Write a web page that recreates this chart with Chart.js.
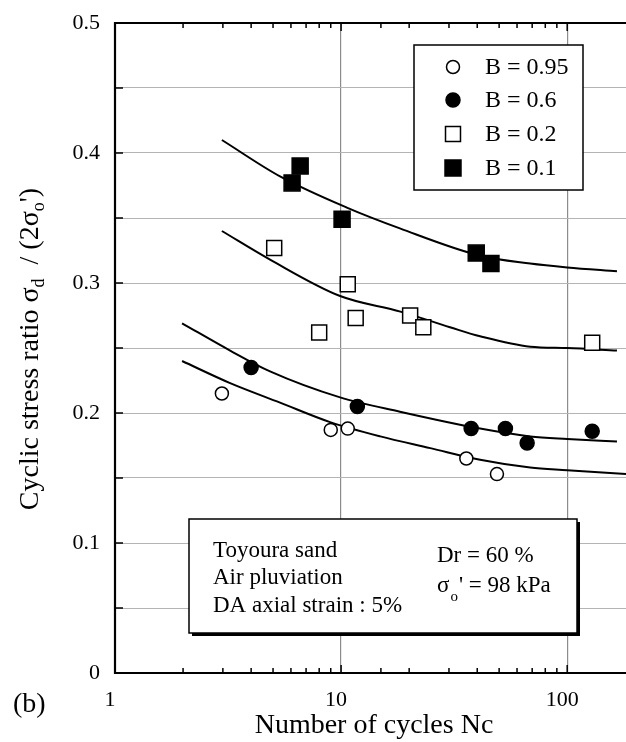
<!DOCTYPE html>
<html>
<head>
<meta charset="utf-8">
<script src="https://cdn.jsdelivr.net/npm/chart.js@4.4.0/dist/chart.umd.min.js"></script>
<style>
  html, body { margin: 0; padding: 0; background: #fff; }
</style>
</head>
<body>
<canvas id="myChart" width="626" height="742"></canvas>
<script>
// test results: number of cycles Nc and cyclic stress ratio, per B value
const ncB095 = [2.97, 9.0, 10.7, 35.8, 48.9];
const csrB095 = [0.215, 0.187, 0.188, 0.165, 0.153];
const ncB06 = [4.0, 11.8, 37.6, 53.3, 66.5, 129];
const csrB06 = [0.235, 0.205, 0.188, 0.188, 0.177, 0.186];
const ncB02 = [5.06, 8.0, 10.7, 11.6, 20.2, 23.1, 129];
const csrB02 = [0.327, 0.262, 0.299, 0.273, 0.275, 0.266, 0.254];
const ncB01 = [6.07, 6.59, 10.1, 39.6, 46.0];
const csrB01 = [0.377, 0.390, 0.349, 0.323, 0.315];

// hand-drawn trend curves through each group
const fitNc095 = [1.98, 3.23, 5.37, 8.94, 14.9, 24.8, 41.2, 68.6, 100, 182];
const fitCsr095 = [0.240, 0.223, 0.208, 0.193, 0.182, 0.173, 0.164, 0.158, 0.156, 0.153];
const fitNc06 = [1.98, 3.23, 4.85, 9.9, 18.2, 41.2, 68.6, 100, 166];
const fitCsr06 = [0.269, 0.248, 0.232, 0.212, 0.201, 0.188, 0.182, 0.180, 0.178];
const fitNc02 = [2.97, 4.85, 9.9, 18.3, 30.3, 41.2, 68.6, 100, 166];
const fitCsr02 = [0.340, 0.318, 0.290, 0.278, 0.266, 0.259, 0.251, 0.250, 0.248];
const fitNc01 = [2.97, 5.37, 10.6, 18.2, 41.2, 68.6, 100, 166];
const fitCsr01 = [0.410, 0.382, 0.358, 0.342, 0.321, 0.315, 0.312, 0.309];

const xTickLabels = [1, 10, 100];
const legendLabels = ['B = 0.95', 'B = 0.6', 'B = 0.2', 'B = 0.1'];

const SERIF = '"Liberation Serif", "Times New Roman", serif';

function toXY(xs, ys) {
    return xs.map((x, i) => ({ x: x, y: ys[i] }));
}

function curve(xs, ys) {
    return {
        type: 'line',
        data: toXY(xs, ys),
        borderColor: '#000',
        borderWidth: 2,
        pointRadius: 0,
        fill: false,
        cubicInterpolationMode: 'monotone',
        order: 2
    };
}

function marks(label, xs, ys, style, filled, r) {
    return {
        type: 'scatter',
        label: label,
        data: toXY(xs, ys),
        pointStyle: style,
        pointRadius: r,
        pointHoverRadius: r,
        pointBackgroundColor: filled ? '#000' : '#fff',
        pointBorderColor: '#000',
        pointBorderWidth: 1.5,
        showLine: false,
        order: 1
    };
}

const markSets = [
    marks(legendLabels[0], ncB095, csrB095, 'circle', false, 6.5),
    marks(legendLabels[1], ncB06, csrB06, 'circle', true, 7),
    marks(legendLabels[2], ncB02, csrB02, 'rect', false, 10.6),
    marks(legendLabels[3], ncB01, csrB01, 'rect', true, 11.3)
];

// boxes, frame, inward ticks and titles
const decor = {
    id: 'decor',
    afterDatasetsDraw(chart) {
        const ctx = chart.ctx;
        ctx.save();
        // legend box
        ctx.fillStyle = '#fff';
        ctx.strokeStyle = '#000';
        ctx.lineWidth = 1.5;
        ctx.fillRect(414, 45, 169, 145);
        ctx.strokeRect(414, 45, 169, 145);
        const rows = [67, 100, 134, 168];
        ctx.font = '24px ' + SERIF;
        ctx.textBaseline = 'middle';
        ctx.textAlign = 'left';
        markSets.forEach((ds, i) => {
            ctx.fillStyle = ds.pointBackgroundColor;
            ctx.strokeStyle = '#000';
            Chart.helpers.drawPoint(ctx, {
                pointStyle: ds.pointStyle,
                radius: ds.pointRadius,
                rotation: 0,
                borderWidth: ds.pointBorderWidth
            }, 453, rows[i]);
            ctx.fillStyle = '#000';
            ctx.fillText(ds.label, 485, rows[i] + 1);
        });

        // test condition box with drop shadow
        ctx.fillStyle = '#000';
        ctx.fillRect(192, 522, 388, 114);
        ctx.fillStyle = '#fff';
        ctx.fillRect(189, 519, 388, 114);
        ctx.lineWidth = 1.5;
        ctx.strokeRect(189, 519, 388, 114);
        ctx.fillStyle = '#000';
        ctx.font = '23px ' + SERIF;
        ctx.textBaseline = 'alphabetic';
        ctx.fillText('Toyoura sand', 213, 557);
        ctx.fillText('Air pluviation', 213, 584);
        ctx.fillText('DA axial strain : 5%', 213, 612);
        ctx.fillText('Dr = 60 %', 437, 562);
        let x = 437;
        ctx.fillText('\u03c3', x, 592);
        x += ctx.measureText('\u03c3').width;
        ctx.font = '15px ' + SERIF;
        ctx.fillText('o', x + 1, 601);
        x += ctx.measureText('o').width + 2;
        ctx.font = '23px ' + SERIF;
        ctx.fillText("' = 98 kPa", x, 592);
        ctx.restore();
    },
    afterDraw(chart) {
        const ctx = chart.ctx;
        const area = chart.chartArea;
        const xs = chart.scales.x;
        const ys = chart.scales.y;
        ctx.save();
        ctx.strokeStyle = '#000';

        // inward minor ticks on bottom and top edges
        ctx.lineWidth = 1.5;
        xs.ticks.forEach(t => {
            if (t.value <= 1 || t.value > 100) return;
            const px = xs.getPixelForValue(t.value);
            const len = (t.value === 10 || t.value === 100) ? 8 : 5;
            ctx.beginPath();
            ctx.moveTo(px, area.bottom);
            ctx.lineTo(px, area.bottom - len);
            ctx.moveTo(px, area.top);
            ctx.lineTo(px, area.top + len);
            ctx.stroke();
        });
        ys.ticks.forEach(t => {
            const py = ys.getPixelForValue(t.value);
            ctx.beginPath();
            ctx.moveTo(area.left, py);
            ctx.lineTo(area.left + 8, py);
            ctx.stroke();
        });

        // frame: left, bottom, top
        ctx.lineWidth = 2.2;
        ctx.beginPath();
        ctx.moveTo(area.right, area.top);
        ctx.lineTo(area.left, area.top);
        ctx.lineTo(area.left, area.bottom);
        ctx.lineTo(area.right, area.bottom);
        ctx.stroke();

        // axis titles
        ctx.fillStyle = '#000';
        ctx.font = '28px ' + SERIF;
        ctx.textAlign = 'center';
        ctx.textBaseline = 'middle';
        ctx.fillText('Number of cycles Nc', 374, 726);
        ctx.textAlign = 'left';
        ctx.fillText('(b)', 13, 705);

        // y title with subscripts, rotated
        const parts = [
            ['Cyclic stress ratio \u03c3', 28, 0],
            ['d', 18, 8],
            ['  / (2\u03c3', 28, 0],
            ['o', 18, 8],
            ["')", 28, 0]
        ];
        let total = 0;
        parts.forEach(p => {
            ctx.font = p[1] + 'px ' + SERIF;
            total += ctx.measureText(p[0]).width;
        });
        ctx.translate(31, 349);
        ctx.rotate(-Math.PI / 2);
        ctx.textBaseline = 'middle';
        let cx = -total / 2;
        parts.forEach(p => {
            ctx.font = p[1] + 'px ' + SERIF;
            ctx.fillText(p[0], cx, p[2]);
            cx += ctx.measureText(p[0]).width;
        });
        ctx.restore();
    }
};

const config = {
    data: {
        datasets: [
            curve(fitNc095, fitCsr095),
            curve(fitNc06, fitCsr06),
            curve(fitNc02, fitCsr02),
            curve(fitNc01, fitCsr01)
        ].concat(markSets)
    },
    options: {
        responsive: false,
        animation: false,
        layout: {
            autoPadding: false,
            padding: { top: 23, right: 0, left: 0, bottom: 0 }
        },
        plugins: {
            legend: { display: false },
            tooltip: { enabled: false }
        },
        scales: {
            x: {
                type: 'logarithmic',
                min: 1,
                max: 182,
                afterFit: s => {
                    s.height = 69;
                    s.paddingLeft = 0;
                    s.paddingRight = 0;
                },
                border: { display: false },
                grid: {
                    drawTicks: false,
                    lineWidth: 1.2,
                    color: c => (c.tick && (c.tick.value === 10 || c.tick.value === 100)) ? '#8c8c8c' : 'rgba(0,0,0,0)'
                },
                ticks: {
                    autoSkip: false,
                    maxRotation: 0,
                    padding: 14,
                    labelOffset: -5,
                    color: '#000',
                    font: { family: SERIF, size: 22 },
                    callback: v => xTickLabels.includes(v) ? String(v) : ''
                }
            },
            y: {
                min: 0,
                max: 0.5,
                afterFit: s => {
                    s.width = 115;
                    s.paddingTop = 0;
                    s.paddingBottom = 0;
                },
                border: { display: false },
                grid: {
                    drawTicks: false,
                    lineWidth: 1,
                    color: c => (c.tick && c.tick.value > 0.001 && c.tick.value < 0.499) ? '#b4b4b4' : 'rgba(0,0,0,0)'
                },
                ticks: {
                    stepSize: 0.05,
                    padding: 15,
                    color: '#000',
                    font: { family: SERIF, size: 22 },
                    callback: v => {
                        const t = Math.round(v * 100);
                        return t % 10 === 0 ? String(t / 100) : '';
                    }
                }
            }
        }
    },
    plugins: [decor]
};

const myChart = new Chart(
    document.getElementById('myChart'),
    config
);
</script>
</body>
</html>
